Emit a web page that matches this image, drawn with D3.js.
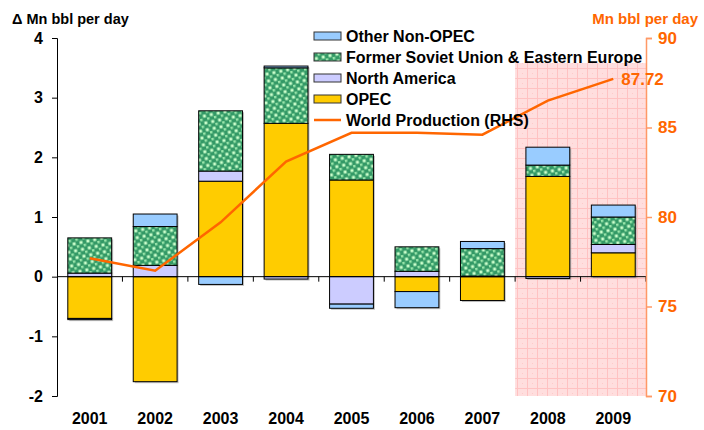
<!DOCTYPE html>
<html>
<head>
<meta charset="utf-8">
<script src="https://cdn.jsdelivr.net/npm/d3@7"></script>
<style>
  body { margin: 0; background: #fff; }
  svg text { font-family: "Liberation Sans", Arial, sans-serif; font-weight: bold; }
</style>
</head>
<body>
<svg id="chart"></svg>
<script>
var years = ["2001", "2002", "2003", "2004", "2005", "2006", "2007", "2008", "2009"];
var opec       = [-0.70, -1.76, 1.60, 2.57, 1.62, -0.25, -0.40, 1.68, 0.40];
var northAm    = [0.06, 0.19, 0.17, -0.04, -0.46, 0.09, 0.01, -0.03, 0.14];
var fsu        = [0.59, 0.65, 1.01, 0.93, 0.43, 0.41, 0.46, 0.19, 0.46];
var otherNon   = [-0.02, 0.21, -0.13, 0.03, -0.07, -0.27, 0.12, 0.30, 0.20];
var worldProd  = [77.7, 77.0, 79.7, 83.1, 84.7, 84.7, 84.6, 86.5, 87.72];
var forecastYears = ["2008", "2009"];
var leftTicks = [-2, -1, 0, 1, 2, 3, 4];
var rightTicks = [70, 75, 80, 85, 90];

var width = 704, height = 430;
var margin = { top: 38, right: 58, bottom: 34, left: 57 };
var innerW = width - margin.left - margin.right;
var innerH = height - margin.top - margin.bottom;

var svg = d3.select("#chart").attr("width", width).attr("height", height);

var keys = ["opec", "northAm", "fsu", "otherNon"];
var colors = { opec: "#FFCC00", northAm: "#CCCCFF", fsu: "url(#fsuPat)", otherNon: "#99CCFF" };

var table = years.map(function(y, i) {
  return { year: y, opec: opec[i], northAm: northAm[i], fsu: fsu[i], otherNon: otherNon[i] };
});

var defs = svg.append("defs");
// green dotted pattern for FSU
var pat = defs.append("pattern").attr("id", "fsuPat")
  .attr("patternUnits", "userSpaceOnUse").attr("width", 7).attr("height", 7)
  .attr("patternTransform", "rotate(-12)");
pat.append("rect").attr("width", 7).attr("height", 7).attr("fill", "#339966");
pat.append("rect").attr("x", 0.5).attr("y", 0.5).attr("width", 3).attr("height", 3).attr("fill", "#CCFFCC");
pat.append("rect").attr("x", 4).attr("y", 4).attr("width", 2.5).attr("height", 2.5).attr("fill", "#99E6AA");

// pink grid pattern for forecast
var pink = defs.append("pattern").attr("id", "pinkPat")
  .attr("patternUnits", "userSpaceOnUse").attr("width", 10).attr("height", 10);
pink.append("rect").attr("width", 10).attr("height", 10).attr("fill", "#FFDEDE");
pink.append("path").attr("d", "M0,0.5H10M0.5,0V10").attr("stroke", "#FFC2C2").attr("stroke-width", 1);
pink.append("rect").attr("x", 5).attr("y", 5).attr("width", 1).attr("height", 1).attr("fill", "#FFCACA");

var g = svg.append("g").attr("transform", "translate(" + margin.left + "," + margin.top + ")");

var x = d3.scaleBand().domain(years).range([0, innerW]).paddingInner(0.33).paddingOuter(0.165);
var band = d3.scaleBand().domain(years).range([0, innerW]);
var y = d3.scaleLinear().domain([-2, 4]).range([innerH, 0]);
var y2 = d3.scaleLinear().domain([70, 90]).range([innerH, 0]);

// forecast shading
g.append("rect")
  .attr("x", band(forecastYears[0]))
  .attr("y", y(3.58))
  .attr("width", innerW - band(forecastYears[0]))
  .attr("height", innerH - y(3.58))
  .attr("fill", "url(#pinkPat)");

var series = d3.stack().keys(keys).offset(d3.stackOffsetDiverging)(table);

// bar shadows
g.selectAll(".shadow").data(table).enter().append("rect")
  .attr("x", function(d) { return x(d.year) + 1.5; })
  .attr("y", function(d) {
    var pos = d3.sum(keys, function(k) { return Math.max(0, d[k]); });
    return y(pos) + 1.5;
  })
  .attr("width", x.bandwidth())
  .attr("height", function(d) {
    var pos = d3.sum(keys, function(k) { return Math.max(0, d[k]); });
    var neg = d3.sum(keys, function(k) { return Math.min(0, d[k]); });
    return y(neg) - y(pos);
  })
  .attr("fill", "#999")
  .attr("opacity", 0.6);

g.selectAll(".series").data(series).enter().append("g")
  .attr("fill", function(s) { return colors[s.key]; })
  .selectAll("rect").data(function(s) { return s; }).enter().append("rect")
  .attr("x", function(d) { return x(d.data.year); })
  .attr("y", function(d) { return y(Math.max(d[0], d[1])); })
  .attr("width", x.bandwidth())
  .attr("height", function(d) { return Math.abs(y(d[0]) - y(d[1])); })
  .attr("stroke", "#000")
  .attr("stroke-width", 1);

// zero line with category ticks
g.append("line").attr("x1", 0).attr("x2", innerW).attr("y1", y(0)).attr("y2", y(0))
  .attr("stroke", "#000");
g.selectAll(".ctick").data(years.slice(1).concat(["end"])).enter().append("line")
  .attr("x1", function(d) { return d == "end" ? innerW : band(d); })
  .attr("x2", function(d) { return d == "end" ? innerW : band(d); })
  .attr("y1", y(0)).attr("y2", y(0) + 5)
  .attr("stroke", "#000");

// left axis
var yAxis = g.append("g").call(d3.axisLeft(y).tickValues(leftTicks).tickSize(5).tickPadding(9)
  .tickFormat(function(d) { return String(d); }));
yAxis.select(".domain").attr("stroke", "#000");
yAxis.selectAll("text").style("font-size", "16px").attr("fill", "#000");

// right axis
var y2Axis = g.append("g").attr("transform", "translate(" + innerW + ",0)")
  .call(d3.axisRight(y2).tickValues(rightTicks).tickSize(6).tickPadding(6));
y2Axis.select(".domain").attr("stroke", "#FF9966").attr("stroke-width", 1.5);
y2Axis.selectAll("line").attr("stroke", "#FF9966").attr("stroke-width", 1.5);
y2Axis.selectAll("text").style("font-size", "17px").attr("fill", "#FF6600");

// x labels
g.selectAll(".xlab").data(years).enter().append("text")
  .attr("x", function(d) { return x(d) + x.bandwidth() / 2; })
  .attr("y", innerH + 28)
  .attr("text-anchor", "middle")
  .style("font-size", "16px")
  .text(function(d) { return d; });

// world production line
var line = d3.line()
  .x(function(d, i) { return x(years[i]) + x.bandwidth() / 2; })
  .y(function(d) { return y2(d); });
g.append("path").datum(worldProd).attr("d", line)
  .attr("fill", "none").attr("stroke", "#FF6600").attr("stroke-width", 2.5);

g.append("text")
  .attr("x", x(years[8]) + x.bandwidth() / 2 + 8)
  .attr("y", y2(worldProd[8]) + 6)
  .attr("fill", "#FF6600")
  .style("font-size", "17px")
  .text(d3.format(".2f")(worldProd[8]));

// titles
svg.append("text").attr("x", 12).attr("y", 24).style("font-size", "14.5px")
  .text("\u0394 Mn bbl per day");
svg.append("text").attr("x", 698).attr("y", 24).attr("text-anchor", "end")
  .style("font-size", "15px").attr("fill", "#FF6600")
  .text("Mn bbl per day");

// legend
var legendItems = [
  { label: "Other Non-OPEC", fill: colors.otherNon },
  { label: "Former Soviet Union & Eastern Europe", fill: colors.fsu },
  { label: "North America", fill: colors.northAm },
  { label: "OPEC", fill: colors.opec },
  { label: "World Production (RHS)", line: true }
];
var legend = svg.append("g").attr("transform", "translate(314,36)");
var li = legend.selectAll("g").data(legendItems).enter().append("g")
  .attr("transform", function(d, i) { return "translate(0," + (i * 21) + ")"; });
li.filter(function(d) { return !d.line; }).append("rect")
  .attr("x", 0).attr("y", -4).attr("width", 27).attr("height", 8)
  .attr("fill", function(d) { return d.fill; })
  .attr("stroke", "#333").attr("stroke-width", 1);
li.filter(function(d) { return d.line; }).append("line")
  .attr("x1", 0).attr("x2", 27).attr("y1", 0).attr("y2", 0)
  .attr("stroke", "#FF6600").attr("stroke-width", 2.5);
li.append("text").attr("x", 32).attr("y", 6).style("font-size", "16px")
  .text(function(d) { return d.label; });
</script>
</body>
</html>
